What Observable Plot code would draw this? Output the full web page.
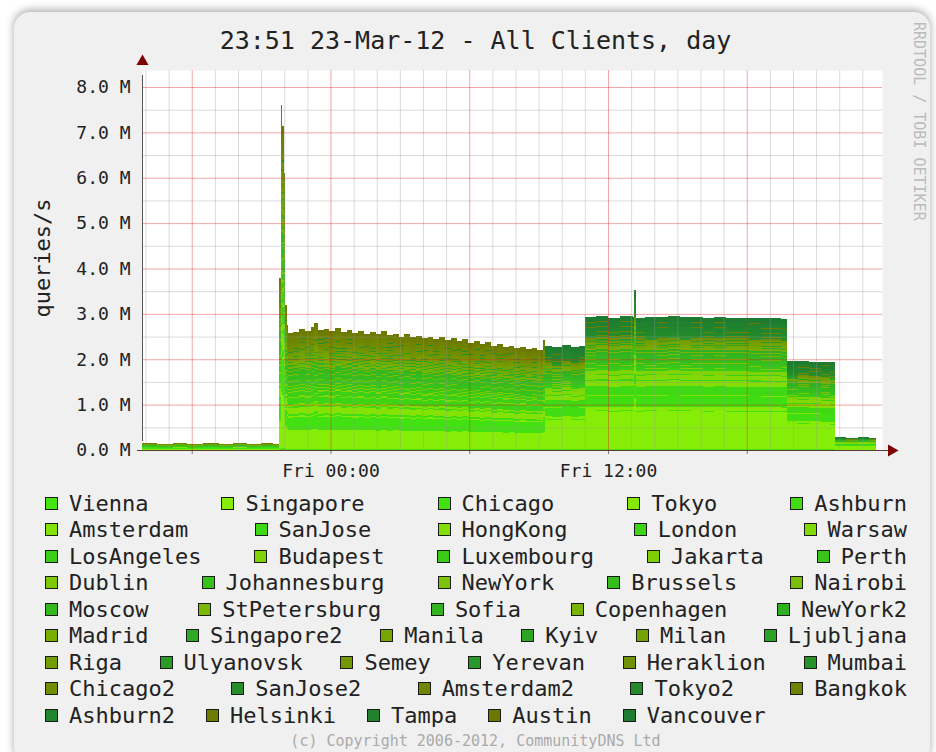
<!DOCTYPE html>
<html><head><meta charset="utf-8">
<script src="https://cdn.jsdelivr.net/npm/d3@7"></script>
<script src="https://cdn.jsdelivr.net/npm/@observablehq/plot@0.6"></script>
<style>
body{margin:0;background:#fff;}
#page{position:relative;width:936px;height:752px;overflow:hidden;font-family:"DejaVu Sans Mono",monospace;color:#222;}
#card{position:absolute;left:14px;top:12px;width:916px;height:752px;border-radius:16px;background:#f0f0f0;box-shadow:0 -2px 9px rgba(0,0,0,0.35);}
#title{position:absolute;left:0;width:951px;top:26px;line-height:30px;text-align:center;font-size:25px;white-space:nowrap;}
#chart{position:absolute;left:0;top:56px;}
#ylabel{position:absolute;left:42px;top:258px;transform:translate(-50%,-50%) rotate(-90deg);font-size:22px;white-space:nowrap;}
#legend{position:absolute;left:45px;top:490px;width:862px;}
.row{display:flex;justify-content:space-between;height:26.5px;align-items:center;}
.row.last{justify-content:flex-start;gap:31px;}
.item{display:flex;align-items:center;font-size:22px;white-space:nowrap;}
.sw{width:11px;height:11px;border:1.5px solid #1a1a1a;margin-right:11px;}
#copy{position:absolute;left:0;width:951px;top:732px;text-align:center;font-size:15px;color:#aaa;white-space:nowrap;}
#wm{position:absolute;left:910px;top:22px;writing-mode:vertical-rl;font-size:15px;color:#bbb;white-space:nowrap;}
</style></head>
<body>
<div id="page">
  <div id="card"></div>
  <div id="title">23:51 23-Mar-12 - All Clients, day</div>
  <div id="wm">RRDTOOL / TOBI OETIKER</div>
  <div id="chart"></div>
  <div id="ylabel">queries/s</div>
  <div id="legend"></div>
  <div id="copy">(c) Copyright 2006-2012, CommunityDNS Ltd</div>
</div>
<script>
// ---- data ----
const series = ["Vienna","Singapore","Chicago","Tokyo","Ashburn",
  "Amsterdam","SanJose","HongKong","London","Warsaw",
  "LosAngeles","Budapest","Luxembourg","Jakarta","Perth",
  "Dublin","Johannesburg","NewYork","Brussels","Nairobi",
  "Moscow","StPetersburg","Sofia","Copenhagen","NewYork2",
  "Madrid","Singapore2","Manila","Kyiv","Milan","Ljubljana",
  "Riga","Ulyanovsk","Semey","Yerevan","Heraklion","Mumbai",
  "Chicago2","SanJose2","Amsterdam2","Tokyo2","Bangkok",
  "Ashburn2","Helsinki","Tampa","Austin","Vancouver"];
const legendRowSizes = [5,5,5,5,5,6,6,5,5];

// hours since Thu 22-Mar-2012 00:00
const hours = [15.85,16.5,17.2,17.8,18.5,19.2,19.8,20.4,21.0,21.5,
  21.79,21.85,21.91,21.97,22.05,22.1,
  22.15,22.4,22.65,22.9,23.15,23.3,23.45,23.7,23.95,24.2,24.45,24.7,24.95,25.2,25.45,25.7,25.95,
  26.2,26.45,26.7,26.95,27.2,27.45,27.7,27.95,28.2,28.45,28.7,28.95,29.2,29.45,29.7,29.95,
  30.2,30.45,30.7,30.95,31.2,31.45,31.7,31.95,32.2,32.45,32.7,32.95,
  33.18,33.28,33.6,34.0,34.4,34.75,
  35.0,35.5,36.0,36.5,37.1,37.14,37.22,37.6,38.1,38.6,39.1,39.6,40.1,40.6,41.1,41.6,42.1,42.6,43.1,43.5,
  43.76,44.2,44.7,45.2,45.6,
  45.8,46.3,46.8,47.3,47.6];
// total queries/s (millions) at each time
const totalM = [0.15,0.14,0.16,0.14,0.15,0.14,0.16,0.14,0.15,0.14,
  3.8,7.6,7.15,6.1,3.2,2.75,
  2.58,2.60,2.66,2.62,2.70,2.80,2.64,2.66,2.62,2.68,2.60,2.64,2.58,2.62,2.56,2.60,2.55,
  2.62,2.54,2.56,2.50,2.55,2.48,2.52,2.46,2.50,2.44,2.48,2.42,2.46,2.40,2.44,2.36,
  2.40,2.34,2.38,2.30,2.34,2.28,2.30,2.24,2.27,2.22,2.24,2.20,
  2.42,2.30,2.28,2.32,2.27,2.30,
  2.93,2.95,2.92,2.95,2.93,3.52,2.92,2.94,2.93,2.96,2.94,2.93,2.92,2.93,2.92,2.92,2.91,2.90,2.90,2.88,
  1.96,1.97,1.95,1.94,1.93,
  0.28,0.27,0.28,0.27,0.27];
// per-site level (M) in the night regime (before Fri 09:15) and day regime
const dayStartHour = 33.25;
const nightM = [0.02,0.45,0.30,0.03,0.05, 0.15,0.03,0.05,0.15,0.03,
  0.10,0.03,0.05,0.02,0.05, 0.02,0.10,0.02,0.12,0.02,
  0.08,0.02,0.04,0.06,0.03, 0.05,0.02,0.05,0.02,0.05,0.01,
  0.04,0.01,0.05,0.01,0.07,0.01, 0.07,0.01,0.08,0.01,0.08,
  0,0.06,0,0.07,0];
const dayM = [0.02,0.86,0.02,0.08,0.25, 0.02,0.20,0.12,0.03,0.10,
  0.02,0.08,0.05,0.01,0.05, 0.01,0.05,0.01,0.08,0.01,
  0.08,0.01,0.05,0.02,0.05, 0.05,0.01,0.04,0.01,0.04,0.01,
  0.03,0.01,0.02,0.01,0.02,0.01, 0.01,0.04,0.01,0.08,0.01,
  0.10,0.01,0.10,0.01,0.12];

// ---- build ----
const t0 = new Date(2012, 2, 22, 0, 0);
const toDate = h => new Date(t0.getTime() + h * 3600e3);
const nightSum = d3.sum(nightM), daySum = d3.sum(dayM);
const rows = [];
series.forEach((s, i) => {
  hours.forEach((h, j) => {
    const night = h < dayStartHour;
    const share = night ? nightM[i] / nightSum : dayM[i] / daySum;
    rows.push({time: toDate(h), series: s, value: totalM[j] * share});
  });
});

const greenI = d3.interpolateRgb("#44e610", "#1e7c30");
const yellowI = d3.interpolateRgb("#86ee06", "#6c7800");
const colors = series.map((s, i) => i % 2 === 0 ? greenI(Math.floor(i/2)/23) : yellowI(Math.floor(i/2)/22));

const start = toDate(15.85), end = toDate(47.85);
const yMax = 8.375;
const minorX = d3.timeHour.range(d3.timeHour.ceil(start), end).filter(d => d.getHours() % 6 !== 0);
const majorX = d3.timeHour.every(6).range(start, end);
const minorY = d3.range(0.5, yMax, 1);
const majorY = d3.range(0, yMax, 1);
const xLabels = [toDate(24), toDate(36)];

const chart = Plot.plot({
  width: 936, height: 436,
  marginLeft: 142, marginRight: 54, marginTop: 14, marginBottom: 42,
  style: {background: "transparent", fontFamily: "DejaVu Sans Mono", fontSize: "18px", color: "#222", overflow: "visible"},
  x: {type: "time", domain: [start, end]},
  y: {type: "linear", domain: [0, yMax]},
  color: {domain: series, range: colors},
  marks: [
    Plot.frame({fill: "white"}),
    Plot.areaY(rows, {x: "time", y: "value", fill: "series", curve: "step-after", shapeRendering: "crispEdges"}),
    Plot.ruleX(minorX, {stroke: "#999", strokeOpacity: 0.35}),
    Plot.ruleY(minorY, {stroke: "#999", strokeOpacity: 0.35}),
    Plot.ruleX(majorX, {stroke: "#e02020", strokeOpacity: 0.4}),
    Plot.ruleY(majorY, {stroke: "#e02020", strokeOpacity: 0.4}),
    Plot.ruleX(majorX, {y1: 0, y2: 0, insetBottom: -4, stroke: "#777"}),
    Plot.axisY({ticks: d3.range(0, 9), tickFormat: d => d.toFixed(1) + " M", tickSize: 0, tickPadding: 12, label: null}),
    Plot.axisX({ticks: xLabels, tickFormat: d3.timeFormat("%a %H:%M"), tickSize: 0, tickPadding: 14, label: null}),
    Plot.ruleX([start], {y1: 0, y2: yMax, stroke: "#555", insetTop: -9, insetBottom: -5}),
    Plot.ruleY([0], {x1: start, x2: end, stroke: "#5a3a33", insetLeft: -5, insetRight: -6}),
    Plot.dot([start], {x: d => d, y: () => yMax, dy: -9, symbol: "triangle", r: 4.5, fill: "#7f0000"}),
    Plot.dot([end], {x: d => d, y: () => 0, dx: 9, symbol: "triangle", r: 4.5, rotate: 90, fill: "#7f0000"})
  ]
});
document.getElementById("chart").appendChild(chart);

// legend
const legend = document.getElementById("legend");
let k = 0;
legendRowSizes.forEach((n, r) => {
  const row = document.createElement("div");
  row.className = "row" + (r === legendRowSizes.length - 1 ? " last" : "");
  for (let c = 0; c < n; c++, k++) {
    const it = document.createElement("div");
    it.className = "item";
    const sw = document.createElement("span");
    sw.className = "sw";
    sw.style.background = colors[k];
    it.appendChild(sw);
    it.appendChild(document.createTextNode(series[k]));
    row.appendChild(it);
  }
  legend.appendChild(row);
});
</script>
</body></html>
